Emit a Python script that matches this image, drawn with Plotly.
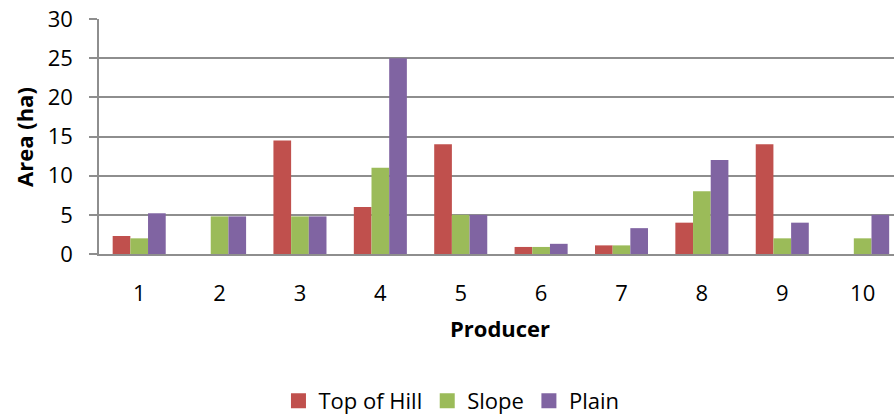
import plotly.graph_objects as go

producers = [1, 2, 3, 4, 5, 6, 7, 8, 9, 10]
top_of_hill = [2.3, 0, 14.5, 6, 14, 0.9, 1.1, 4, 14, 0]
slope = [2, 4.8, 4.8, 11, 5, 0.9, 1.1, 8, 2, 2]
plain = [5.2, 4.8, 4.8, 25, 5, 1.3, 3.3, 12, 4, 5]

series = [
    ("Top of Hill", top_of_hill, "#C0504D"),
    ("Slope", slope, "#9BBB59"),
    ("Plain", plain, "#8064A2"),
]

FONT = "Open Sans, Liberation Sans, sans-serif"
GRID = "#8E8E8E"

fig = go.Figure()
for name, vals, color in series:
    fig.add_trace(go.Bar(
        x=producers, y=vals, name=name, showlegend=False,
        marker=dict(color=color, line=dict(width=0)),
    ))

# square legend keys
for name, vals, color in series:
    fig.add_trace(go.Scatter(
        x=[None], y=[None], mode="markers", name=name,
        marker=dict(symbol="square", size=15, color=color),
    ))

fig.update_layout(
    width=894, height=419,
    margin=dict(l=99, r=0, t=19, b=165),
    paper_bgcolor="white", plot_bgcolor="white",
    barmode="group", bargap=0.34, bargroupgap=0,
    font=dict(family=FONT, size=22, color="#000000"),
    showlegend=True,
    legend=dict(
        orientation="h", xref="container", yref="container",
        x=0.505, y=0.043, xanchor="center", yanchor="middle",
        font=dict(size=22), itemwidth=30, tracegroupgap=0,
    ),
    xaxis=dict(
        range=[0.5, 10.39], tickmode="array", tickvals=producers,
        ticktext=[str(p) for p in producers],
        showgrid=False, zeroline=False,
        showline=True, linecolor=GRID, linewidth=1.5,
        ticks="", ticklabelstandoff=19,
        tickfont=dict(size=22),
    ),
    yaxis=dict(
        range=[0, 30], tickvals=[0, 5, 10, 15, 20, 25, 30],
        showgrid=True, gridcolor=GRID, gridwidth=1.5,
        zeroline=False,
        showline=True, linecolor=GRID, linewidth=1.5,
        ticks="outside", ticklen=8, tickcolor=GRID, tickwidth=1.5,
        ticklabelstandoff=12,
        tickfont=dict(size=22),
    ),
    annotations=[
        dict(text="<b>Area (ha)</b>", textangle=-90, xref="paper", yref="paper",
             x=-0.095, y=0.5, xanchor="center", yanchor="middle",
             showarrow=False, font=dict(size=22)),
        dict(text="<b>Producer</b>", xref="paper", yref="paper",
             x=0.504, y=-0.317, xanchor="center", yanchor="middle",
             showarrow=False, font=dict(size=22)),
    ],
)

fig.write_html("out.html")
